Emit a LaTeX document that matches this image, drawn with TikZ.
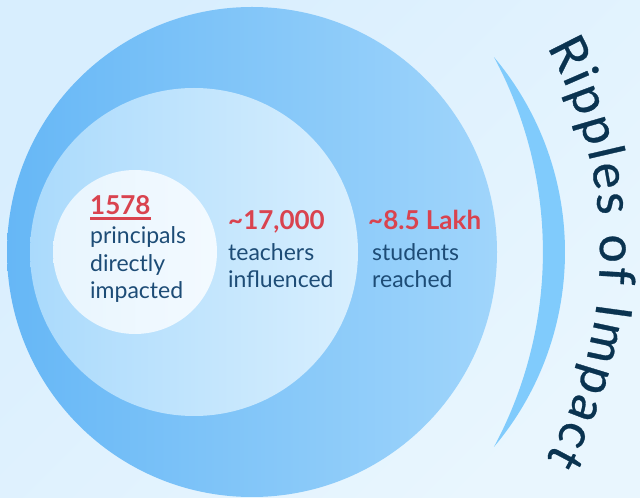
\documentclass[tikz,border=0pt]{standalone}
\usepackage{fontspec}
\setmainfont{Lato}
\newfontfamily\titlefont{Lato}[FakeBold=0.6]
\usetikzlibrary{decorations.text}

\definecolor{bgtop}{HTML}{D8EEFE}
\definecolor{bgbot}{HTML}{E9F6FE}
\definecolor{outerL}{HTML}{66B7F6}
\definecolor{outerR}{HTML}{A0D5FB}
\definecolor{midL}{HTML}{AADAFC}
\definecolor{midR}{HTML}{D8EFFE}
\definecolor{innerL}{HTML}{E8F5FE}
\definecolor{innerR}{HTML}{F3FAFF}
\definecolor{wave}{HTML}{80CBFC}
\definecolor{numred}{HTML}{D9434F}
\definecolor{bodyblue}{HTML}{1D4C76}
\definecolor{titleblue}{HTML}{0A3350}

\begin{document}
\begin{tikzpicture}[x=1pt, y=1pt,
                    ring/.style={circle, inner sep=0pt, draw=none},
                    num/.style={anchor=base west, inner sep=0pt, text=numred,
                                font=\fontsize{26}{30}\selectfont\bfseries},
                    desc/.style={anchor=base west, inner sep=0pt, text=bodyblue, align=left,
                                 font=\fontsize{23}{27.5}\selectfont}]
	% background
	\shade[top color=bgtop, bottom color=bgbot, shading angle=45] (0,0) rectangle (640,498);
	\useasboundingbox (0,0) rectangle (640,498);

	% ripples
	\node[ring, minimum size=490pt, left color=outerL, right color=outerR] (outer) at (252,246) {};
	\node[ring, minimum size=328pt, left color=midL, right color=midR] (middle) at (194,246) {};
	\node[ring, minimum size=164pt, left color=innerL, right color=innerR] (inner) at (135,246) {};

	% crescent
	\fill[wave] (262,246) ++(-40.04:303pt) arc[start angle=-40.04, end angle=40.04, radius=303pt]
	            arc[start angle=28.2, end angle=-28.2, radius=412.5pt] -- cycle;

	% numbers
	\node[num] (principals) at (90,283) {1578};
	\draw[numred, line width=2.2pt] ([yshift=-3.5pt]principals.base west) -- ([yshift=-3.5pt]principals.base east);
	\node[num] (teachers) at (228,268) {\textasciitilde 17,000};
	\node[num] (students) at (368,268) {\textasciitilde 8.5 Lakh};

	% last line sits on the given point
	\node[desc] (d1) at (90,199) {principals\\directly\\impacted};
	\node[desc] (d2) at (228,210) {teachers\\influenced};
	\node[desc] (d3) at (372,210) {students\\reached};

	% title
	\path[decorate, decoration={text along path, text align=fit to path,
	      text={|\titlefont\fontsize{50}{58}\selectfont\color{titleblue}|Ripples of Impact}}]
	      (177,246) ++(29:423pt) arc[start angle=29, end angle=-29.2, radius=423pt];
\end{tikzpicture}
\end{document}
